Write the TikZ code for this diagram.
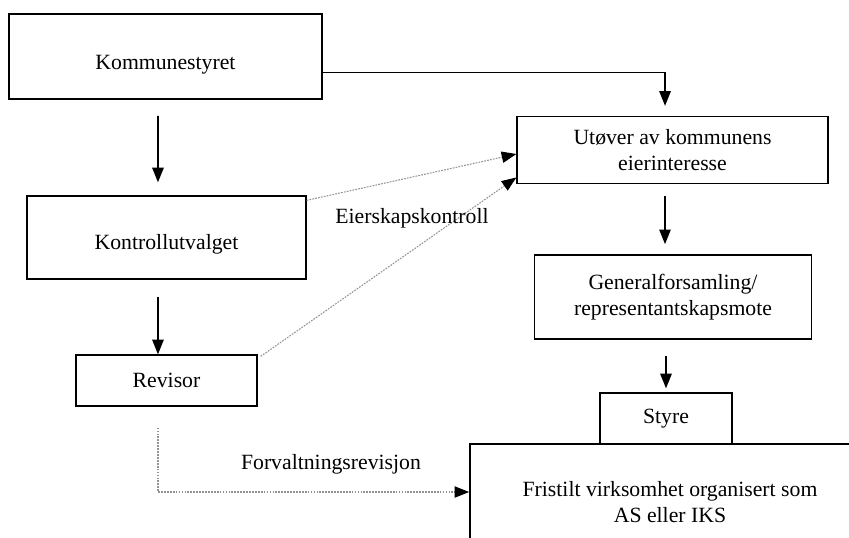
\documentclass[tikz,border=0pt]{standalone}
\usepackage{fontspec}
\setmainfont{Liberation Serif}
\usepackage{tikz}
\usetikzlibrary{arrows.meta,positioning}

\begin{document}
\begin{tikzpicture}[x=0.75pt,y=0.75pt,yscale=-1,xscale=1,
  font=\fontsize{16.3}{20}\selectfont,
  procbox/.style={draw,line width=1.2pt,inner sep=0pt,align=center},
  arrow/.style={line width=1.3pt,-{Triangle[length=11pt,width=8.5pt]}},
  dotarrow/.style={gray!85,line width=0.8pt,dash pattern=on 1.3pt off 0.9pt,
    -{Triangle[length=11pt,width=8.5pt,black]}}]
\useasboundingbox (0,0) rectangle (849,537);
\clip (0,0) rectangle (849,537);

%Flowchart: Process
\node (komm) at (165.5,56.5) [procbox,minimum width=235pt,minimum height=64pt] {\rule{0pt}{23pt}Kommunestyret};
%Flowchart: Process
\node (kontroll) at (166.5,237.5) [procbox,minimum width=209pt,minimum height=62pt] {\rule{0pt}{21pt}Kontrollutvalget};
%Flowchart: Process
\node (revisor) at (166.5,380.5) [procbox,minimum width=136pt,minimum height=38pt] {Revisor};
%Flowchart: Process
\node (utover) at (672.5,150) [procbox,minimum width=233pt,minimum height=50pt] {Utøver av kommunens\\eierinteresse};
%Flowchart: Process
\node (gen) at (673,297) [procbox,minimum width=208pt,minimum height=63pt] {Generalforsamling/\\representantskapsmote};
%Flowchart: Process
\node (styre) at (666,418.5) [procbox,minimum width=99pt,minimum height=38pt] {Styre};
%Flowchart: Process
\node (fristilt) at (670,502) [procbox,minimum width=300pt,minimum height=87pt] {Fristilt virksomhet organisert som\\AS eller IKS};

%Arrows
\draw[arrow] ([xshift=-5.6pt,yshift=12pt]komm.south) -- ([xshift=-6.4pt,yshift=-9.75pt]kontroll.north);
\draw[arrow] ([xshift=-6.4pt,yshift=12.75pt]kontroll.south) -- ([xshift=-6.4pt]revisor.north);
\draw[arrow] ([yshift=12pt]komm.east) -| ([xshift=-5.6pt,yshift=-7.5pt]utover.north);
\draw[arrow] ([xshift=-5.6pt,yshift=9pt]utover.south) -- ([xshift=-6pt,yshift=-7.5pt]gen.north);
\draw[arrow] ([xshift=-5.25pt,yshift=12pt]gen.south) -- ([yshift=-3pt]styre.north);

%Dotted arrows
\draw[dotarrow] ([yshift=3.75pt]kontroll.north east) -- ([yshift=3pt]utover.west);
\draw[dotarrow] ([xshift=2pt,yshift=1.5pt]revisor.north east) -- ([yshift=-5pt]utover.south west);
\draw[dotarrow] ([xshift=-6.4pt,yshift=15.75pt]revisor.south) |- ([yshift=-7.5pt]fristilt.west);

% Text Node
\node (eier) at (412,218) {Eierskapskontroll};
% Text Node
\node (forv) at (331,464) {Forvaltningsrevisjon};

\end{tikzpicture}
\end{document}
